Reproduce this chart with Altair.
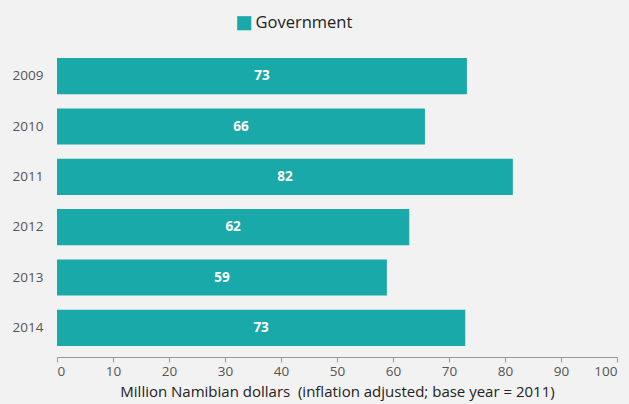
import altair as alt
import pandas as pd

years = ["2009", "2010", "2011", "2012", "2013", "2014"]
values = [73.2, 65.7, 81.4, 62.9, 58.9, 72.9]
labels = ["73", "66", "82", "62", "59", "73"]
series = ["Government"] * 6

df = pd.DataFrame({"year": years, "value": values, "label": labels, "series": series})
df["half"] = df["value"] / 2

FONT = "Open Sans"
TEAL = "#1AA9A9"

y_enc = alt.Y("year:N", sort=years,
              scale=alt.Scale(paddingInner=0.28, paddingOuter=0.14),
              axis=alt.Axis(title=None, domain=False, ticks=False, labelPadding=14,
                            labelFontSize=13.5, labelColor="#555555", labelFont=FONT))

bars = alt.Chart(df).mark_bar().encode(
    y=y_enc,
    x=alt.X("value:Q", scale=alt.Scale(domain=[0, 100], nice=False),
            axis=alt.Axis(title="Million Namibian dollars\u00a0 (inflation adjusted; base year = 2011)",
                          values=list(range(0, 101, 10)), grid=False, offset=4,
                          domainColor="#999999", tickColor="#999999", tickSize=5,
                          labelFontSize=13.5, labelColor="#555555", labelFont=FONT,
                          titleFont=FONT, titleFontSize=15, titleFontWeight="normal",
                          titleColor="#222222", titlePadding=7)),
    color=alt.Color("series:N", scale=alt.Scale(domain=["Government"], range=[TEAL]),
                    legend=alt.Legend(title=None, orient="none", legendX=179, legendY=-36,
                                      symbolType="square", symbolSize=200, symbolStrokeWidth=0,
                                      labelFontSize=16.5, labelFont=FONT, labelColor="#222222",
                                      labelOffset=3)),
)

text = alt.Chart(df).mark_text(color="white", fontWeight="bold", fontSize=13.5, font=FONT).encode(
    y=alt.Y("year:N", sort=years),
    x=alt.X("half:Q"),
    text="label:N",
)

chart = (bars + text).properties(
    width=560, height=302,
    background="#F2F2F2",
    padding={"left": 57, "top": 51, "right": 12, "bottom": 51},
    autosize=alt.AutoSizeParams(type="none"),
).configure_view(stroke=None)

chart.save("out.html", embed_options={"renderer": "svg", "actions": False})
